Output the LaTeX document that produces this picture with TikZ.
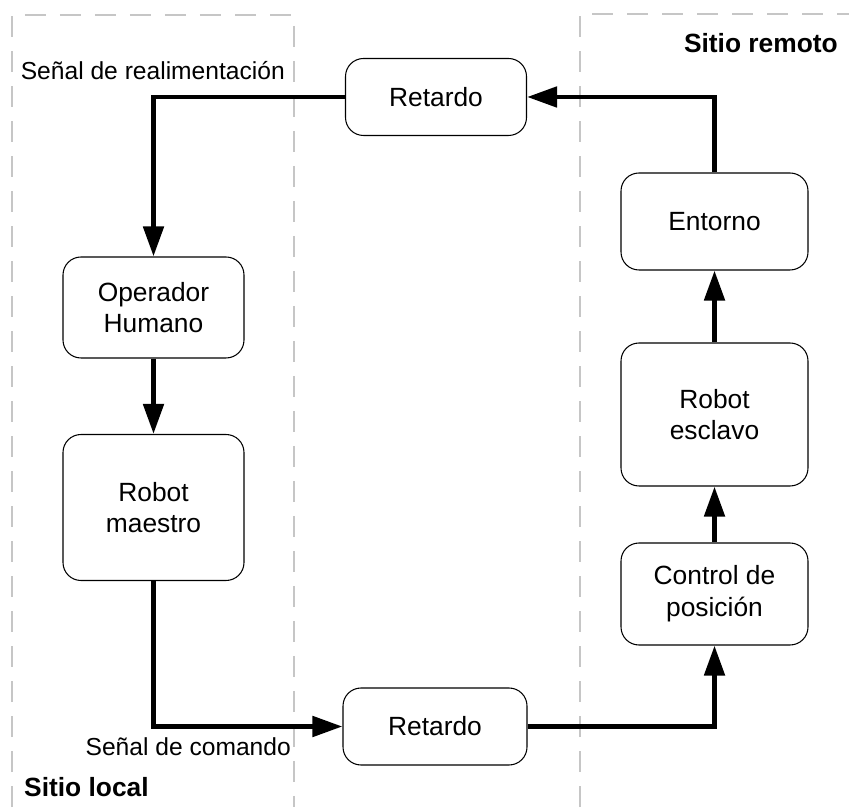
\documentclass[tikz,border=0pt]{standalone}
\usepackage{fontspec}
\setmainfont{Liberation Sans}
\usetikzlibrary{arrows.meta}

\begin{document}
\begin{tikzpicture}[
    block/.style={draw, rounded corners=0.36cm, line width=0.6pt, align=center, font=\fontsize{15}{18}\selectfont},
    flow/.style={line width=2.8pt, -{Triangle[length=0.6cm,width=0.4cm]}},
    zone/.style={draw=gray!45, line width=1.4pt, dash pattern=on 0.42cm off 0.28cm},
    lbl/.style={font=\fontsize{14}{17}\selectfont},
    site/.style={font=\bfseries\fontsize{15}{18}\selectfont}]
    \useasboundingbox (0,0) rectangle (16.98,16.14);
    % Zones
    \draw[zone] (0.24,0) -- (0.24,15.84) -- (5.88,15.84) -- (5.88,0);
    \draw[zone] (11.6,0) -- (11.6,15.86) -- (16.98,15.86);
    \node[site, anchor=west] (local) at (0.36, 0.4) {Sitio local};
    \node[site, anchor=east] (remoto) at (16.88, 15.27) {Sitio remoto};
    % Blocks
    \node[block, minimum width=3.62cm, minimum height=1.54cm] (ret1) at (8.72, 14.2) {Retardo};
    \node[block, minimum width=3.62cm, minimum height=2.02cm] (operador) at (3.07, 9.99) {Operador\\Humano};
    \node[block, minimum width=3.62cm, minimum height=2.92cm] (maestro) at (3.07, 5.99) {Robot\\maestro};
    \node[block, minimum width=3.68cm, minimum height=1.54cm] (ret2) at (8.70, 1.61) {Retardo};
    \node[block, minimum width=3.74cm, minimum height=2.04cm] (control) at (14.29, 4.26) {Control de\\posición};
    \node[block, minimum width=3.74cm, minimum height=2.86cm] (esclavo) at (14.29, 7.85) {Robot\\esclavo};
    \node[block, minimum width=3.74cm, minimum height=1.94cm] (entorno) at (14.29, 11.71) {Entorno};
    % Signals
    \node[lbl, anchor=east] (realim) at (5.82, 14.72) {Señal de realimentación};
    \node[lbl, anchor=east] (comando) at (5.94, 1.2) {Señal de comando};
    \draw[flow] (entorno.north) |- (ret1.east);
    \draw[flow] (ret1.west) -| (operador.north);
    \draw[flow] (operador) -- (maestro);
    \draw[flow] (maestro.south) |- (ret2.west);
    \draw[flow] (ret2.east) -| (control.south);
    \draw[flow] (control) -- (esclavo);
    \draw[flow] (esclavo) -- (entorno);
\end{tikzpicture}
\end{document}
